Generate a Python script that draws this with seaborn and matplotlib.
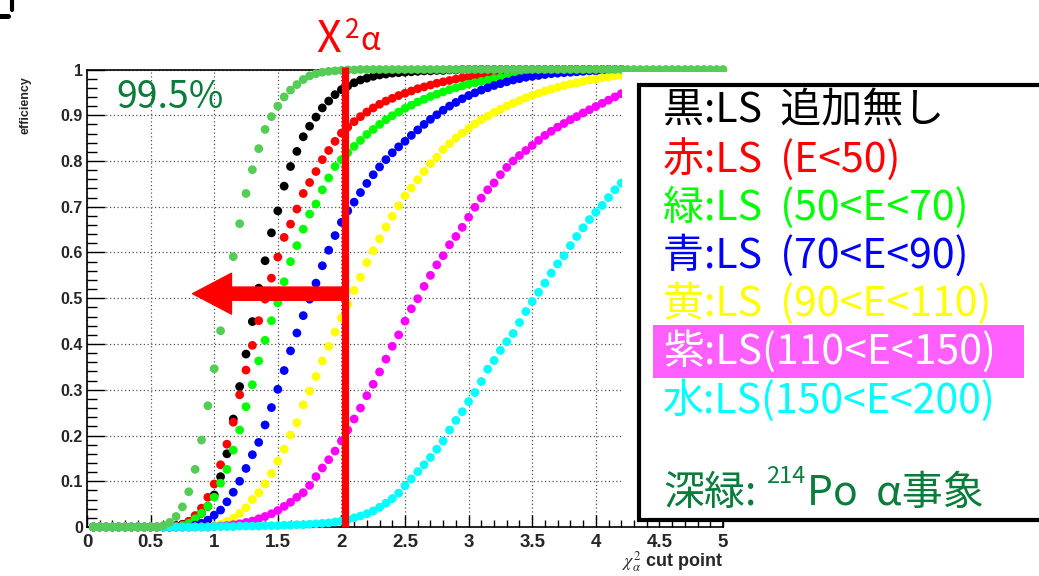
import numpy as np
import matplotlib
matplotlib.use('Agg')
import matplotlib.pyplot as plt
import seaborn as sns
from matplotlib.patches import Rectangle
from matplotlib.lines import Line2D
from matplotlib.text import Annotation
from matplotlib.ticker import MultipleLocator, FuncFormatter

# chi2 cut points (bin step 0.05)
cut_points = np.round(np.arange(1, 85) * 0.05, 2)      # 0.05 .. 4.20
cut_points_po = np.round(np.arange(1, 101) * 0.05, 2)  # 0.05 .. 5.00

eff_black = [0, 0, 0, 0, 0, 0, 0, 0, 0, 0, 0, 0, 0,
             0.003, 0.006, 0.012, 0.02, 0.03, 0.045, 0.07, 0.11, 0.16, 0.236,
             0.307, 0.378, 0.449, 0.522, 0.582, 0.643, 0.691, 0.745, 0.788, 0.821,
             0.853, 0.876, 0.896, 0.916, 0.931, 0.945, 0.956, 0.964, 0.971, 0.977,
             0.981, 0.985, 0.988, 0.990, 0.992, 0.993, 0.994, 0.995, 0.996, 0.997,
             0.997, 0.998, 0.998, 0.999, 0.999,
             1, 1, 1, 1, 1, 1, 1, 1, 1, 1, 1, 1, 1, 1, 1, 1, 1, 1, 1, 1, 1, 1, 1, 1, 1, 1]

eff_red = [0, 0, 0, 0, 0, 0, 0, 0, 0, 0, 0, 0, 0,
           0.002, 0.005, 0.012, 0.025, 0.041, 0.065, 0.094, 0.136, 0.181, 0.229,
           0.289, 0.343, 0.397, 0.451, 0.498, 0.544, 0.59, 0.633, 0.662, 0.695,
           0.729, 0.753, 0.777, 0.803, 0.823, 0.843, 0.861, 0.874, 0.886, 0.897,
           0.907, 0.916, 0.924, 0.931, 0.937, 0.943, 0.948, 0.953, 0.958, 0.962,
           0.966, 0.970, 0.973, 0.976, 0.979, 0.982, 0.984, 0.986, 0.988, 0.990,
           0.992, 0.993, 0.994, 0.995, 0.996, 0.997, 0.998, 0.998, 0.999, 0.999,
           1, 1, 1, 1, 1, 1, 1, 1, 1, 1, 1]

eff_green = [0, 0, 0, 0, 0, 0, 0, 0, 0, 0, 0, 0, 0, 0,
             0.003, 0.008, 0.018, 0.03, 0.045, 0.065, 0.096, 0.126, 0.168, 0.212,
             0.263, 0.311, 0.363, 0.408, 0.451, 0.49, 0.536, 0.58, 0.615, 0.651,
             0.684, 0.706, 0.737, 0.763, 0.788, 0.803, 0.818, 0.832, 0.845, 0.858,
             0.869, 0.880, 0.890, 0.899, 0.907, 0.915, 0.922, 0.929, 0.935, 0.941,
             0.946, 0.951, 0.956, 0.960, 0.964, 0.968, 0.971, 0.974, 0.977, 0.980,
             0.982, 0.984, 0.986, 0.988, 0.989, 0.991, 0.992, 0.993, 0.994, 0.995,
             0.996, 0.996, 0.997, 0.998, 0.998, 0.999, 0.999, 0.999, 1, 1]

eff_blue = [0, 0, 0, 0, 0, 0, 0, 0, 0, 0, 0, 0, 0, 0, 0, 0,
            0.004, 0.008, 0.015, 0.026, 0.037, 0.055, 0.076, 0.10, 0.128, 0.158,
            0.185, 0.223, 0.261, 0.301, 0.342, 0.385, 0.424, 0.462, 0.498, 0.533,
            0.571, 0.605, 0.637, 0.666, 0.691, 0.71, 0.731, 0.751, 0.770, 0.787,
            0.803, 0.818, 0.831, 0.843, 0.856, 0.868, 0.88, 0.891, 0.901, 0.911,
            0.920, 0.928, 0.936, 0.943, 0.949, 0.955, 0.960, 0.965, 0.969, 0.973,
            0.977, 0.980, 0.983, 0.985, 0.987, 0.989, 0.991, 0.992, 0.993, 0.994,
            0.995, 0.996, 0.997, 0.997, 0.998, 0.998, 0.999, 0.999]

eff_yellow = [0, 0, 0, 0, 0, 0, 0, 0, 0, 0, 0, 0, 0, 0, 0, 0, 0, 0, 0,
              0.003, 0.006, 0.012, 0.019, 0.03, 0.042, 0.06, 0.075, 0.094, 0.117,
              0.144, 0.17, 0.201, 0.228, 0.267, 0.297, 0.329, 0.363, 0.395, 0.426,
              0.457, 0.487, 0.517, 0.546, 0.578, 0.604, 0.63, 0.656, 0.679, 0.702,
              0.724, 0.741, 0.759, 0.777, 0.794, 0.808, 0.825, 0.838, 0.85, 0.861,
              0.871, 0.881, 0.89, 0.898, 0.906, 0.913, 0.920, 0.926, 0.932, 0.938,
              0.943, 0.948, 0.953, 0.957, 0.961, 0.965, 0.968, 0.971, 0.974, 0.977,
              0.979, 0.982, 0.984, 0.986, 0.988]

eff_magenta = [0, 0, 0, 0, 0, 0, 0, 0, 0, 0, 0, 0, 0, 0, 0, 0, 0, 0, 0,
               0.001, 0.002, 0.003, 0.005, 0.007, 0.01, 0.013, 0.018, 0.023, 0.029,
               0.036, 0.045, 0.054, 0.065, 0.075, 0.091, 0.11, 0.129, 0.147, 0.166,
               0.188, 0.212, 0.236, 0.26, 0.287, 0.312, 0.339, 0.367, 0.395, 0.42,
               0.45, 0.477, 0.499, 0.526, 0.55, 0.573, 0.593, 0.617, 0.635, 0.655,
               0.677, 0.699, 0.719, 0.737, 0.752, 0.77, 0.786, 0.80, 0.812, 0.823,
               0.834, 0.845, 0.856, 0.865, 0.874, 0.882, 0.89, 0.897, 0.905, 0.912,
               0.919, 0.926, 0.933, 0.940, 0.947]

eff_cyan = [0, 0, 0, 0, 0, 0, 0, 0, 0, 0, 0, 0, 0, 0, 0, 0, 0, 0, 0,
            0.001, 0.001, 0.001, 0.001, 0.002, 0.002, 0.002, 0.002, 0.003, 0.003,
            0.003, 0.004, 0.004, 0.005, 0.005, 0.006, 0.007, 0.008, 0.009, 0.011,
            0.013, 0.016, 0.02, 0.024, 0.029, 0.035, 0.043, 0.052, 0.062, 0.074,
            0.09, 0.105, 0.121, 0.136, 0.152, 0.17, 0.188, 0.212, 0.233, 0.252,
            0.274, 0.294, 0.318, 0.345, 0.364, 0.386, 0.405, 0.423, 0.447, 0.471,
            0.493, 0.513, 0.533, 0.555, 0.575, 0.593, 0.615, 0.635, 0.654, 0.672,
            0.688, 0.703, 0.72, 0.737, 0.752]

eff_po214 = [0, 0, 0, 0, 0, 0, 0, 0, 0, 0, 0,
             0.003, 0.01, 0.023, 0.044, 0.077, 0.126, 0.19, 0.265, 0.346, 0.429,
             0.51, 0.591, 0.663, 0.729, 0.781, 0.827, 0.869, 0.897, 0.920, 0.94,
             0.955, 0.967, 0.978, 0.986, 0.991, 0.994, 0.996, 0.997, 0.998, 0.999,
             0.999,
             1, 1, 1, 1, 1, 1, 1, 1, 1, 1, 1, 1, 1, 1, 1, 1, 1, 1, 1, 1, 1, 1, 1, 1,
             1, 1, 1, 1, 1, 1, 1, 1, 1, 1, 1, 1, 1, 1, 1, 1, 1, 1, 1, 1, 1, 1, 1, 1,
             1, 1, 1, 1, 1, 1, 1, 1, 1, 1]

series = [eff_black, eff_red, eff_green, eff_blue, eff_yellow, eff_magenta, eff_cyan]
series_colors = ['#000000', '#ff0000', '#00ff00', '#0000ff', '#ffff00', '#ff00ff', '#00ffff']
po_color = '#55cc55'

legend_labels = ['黒:LS  追加無し', '赤:LS  (E<50)', '緑:LS  (50<E<70)', '青:LS  (70<E<90)',
                 '黄:LS  (90<E<110)', '紫:LS(110<E<150)', '水:LS(150<E<200)']
legend_colors = ['#000000', '#ff0000', '#00ff00', '#0000ff', '#ffff00', '#ffffff', '#00ffff']
dark_green = '#0a7d3c'

sns.set_theme(style='white')
plt.rcParams['font.family'] = ['Liberation Sans', 'Noto Sans CJK JP', 'DejaVu Sans']
plt.rcParams['mathtext.fontset'] = 'stix'
cjk = ['Noto Sans CJK JP', 'DejaVu Sans']

W, H = 1039, 576
fig = plt.figure(figsize=(W / 100, H / 100), dpi=100)
fig.patch.set_facecolor('white')
ax = fig.add_axes([87 / W, 1 - 527 / H, (723 - 87) / W, (527 - 69.5) / H])
ax.set_facecolor('white')

for vals, col in zip(series, series_colors):
    sns.scatterplot(x=cut_points, y=vals, color=col, s=40, edgecolor='none',
                    linewidth=0, ax=ax, clip_on=False, zorder=3)
sns.scatterplot(x=cut_points_po, y=eff_po214, color=po_color, s=40, edgecolor='none',
                linewidth=0, ax=ax, clip_on=False, zorder=3)

ax.set_xlim(0, 5)
ax.set_ylim(0, 1)
ax.set_xlabel('')
ax.set_ylabel('')
ax.xaxis.set_major_locator(MultipleLocator(0.5))
ax.xaxis.set_minor_locator(MultipleLocator(0.1))
ax.yaxis.set_major_locator(MultipleLocator(0.1))
ax.yaxis.set_minor_locator(MultipleLocator(0.02))
fmt = FuncFormatter(lambda v, p: f'{v:g}')
ax.xaxis.set_major_formatter(fmt)
ax.yaxis.set_major_formatter(fmt)
ax.tick_params(axis='x', which='major', direction='in', length=8.6, width=1,
               labelsize=13.5, pad=5, color='black', bottom=True)
ax.tick_params(axis='x', which='minor', direction='in', length=4.8, width=1,
               color='black', bottom=True)
ax.tick_params(axis='y', which='major', direction='in', length=13, width=1,
               labelsize=11.5, pad=3, color='black', left=True)
ax.tick_params(axis='y', which='minor', direction='in', length=7, width=1,
               color='black', left=True)
for lbl in ax.get_xticklabels() + ax.get_yticklabels():
    lbl.set_fontweight('bold')
ax.grid(True, which='major', linestyle=(0, (1, 2)), color='#555555', linewidth=0.9)
ax.set_axisbelow(True)
for side in ['left', 'bottom', 'top', 'right']:
    ax.spines[side].set_color('black')
    ax.spines[side].set_linewidth(1.2)

# cut line and arrow
cut_x = 2.03
ax.plot([cut_x, cut_x], [0, 1.006], color='#ff0000', lw=5.2, solid_capstyle='butt',
        clip_on=False, zorder=4)
ax.annotate('', xy=(0.83, 0.51), xytext=(cut_x, 0.51),
            arrowprops=dict(arrowstyle='simple,head_length=1.0,head_width=1.05,tail_width=0.34',
                            color='#ff0000', mutation_scale=28, shrinkA=0, shrinkB=0),
            zorder=4)

# white cover over the right part, and the legend box
fig.add_artist(Rectangle((622 / W, 1 - 520 / H), 1 - 622 / W, (520 - 72) / H,
                         transform=fig.transFigure, facecolor='white',
                         edgecolor='none', zorder=5))
fig.add_artist(Rectangle((639 / W, 1 - 520 / H), (1050 - 639) / W, (520 - 85) / H,
                         transform=fig.transFigure, facecolor='white',
                         edgecolor='black', linewidth=3, zorder=6))
fig.add_artist(Rectangle((653 / W, 1 - 378 / H), (1024 - 653) / W, (378 - 325) / H,
                         transform=fig.transFigure, facecolor='#ff5fff',
                         edgecolor='none', zorder=7))

for i, (lab, col) in enumerate(zip(legend_labels, legend_colors)):
    fig.text(663 / W, 1 - (111 + i * 48.2) / H, lab, color=col, fontsize=29.5,
             family=cjk, ha='left', va='center', zorder=8)

# 深緑: 214Po α事象  (superscript mass number)
t1 = fig.text(663 / W, 1 - 493 / H, '深緑:', color=dark_green, fontsize=29.5,
              family=cjk, ha='left', va='center', zorder=8)
t2 = Annotation('214', xy=(1, 0.62), xycoords=t1, xytext=(7, 0),
                textcoords='offset points', color=dark_green, fontsize=17,
                family=cjk, ha='left', va='bottom', annotation_clip=False)
t2.set_zorder(8)
fig.add_artist(t2)
t3 = Annotation('Po  α事象', xy=(1, 0.5), xycoords=(t2, t1), xytext=(1, 0),
                textcoords='offset points', color=dark_green, fontsize=29.5,
                family=cjk, ha='left', va='center', annotation_clip=False)
t3.set_zorder(8)
fig.add_artist(t3)

# annotations
fig.text(170 / W, 1 - 98 / H, '99.5%', color=dark_green, fontsize=27,
         family=cjk, ha='center', va='center')
fig.text(329 / W, 1 - 40 / H, 'X', color='#ff0000', fontsize=31, family=cjk,
         ha='center', va='center')
fig.text(352 / W, 1 - 30 / H, '2', color='#ff0000', fontsize=19, family=cjk,
         ha='center', va='center')
fig.text(370 / W, 1 - 41 / H, 'α', color='#ff0000', fontsize=23, family=cjk,
         ha='center', va='center')

fig.text(26 / W, 1 - 105 / H, 'efficiency', rotation=90, fontsize=9, fontweight='bold',
         ha='center', va='center')
fig.text(723 / W, 1 - 562 / H, r'$\chi^{2}_{\alpha}$ cut point', fontsize=13,
         fontweight='bold', ha='right', va='center')

# small frame remnant in the top-left corner
fig.add_artist(Line2D([0, 7.5 / W], [1 - 15.5 / H] * 2, color='black', lw=3.6,
                      transform=fig.transFigure))
fig.add_artist(Line2D([11.5 / W] * 2, [1, 1 - 9.5 / H], color='black', lw=3,
                      transform=fig.transFigure))

fig.savefig('out.png', dpi=100, facecolor='white')
